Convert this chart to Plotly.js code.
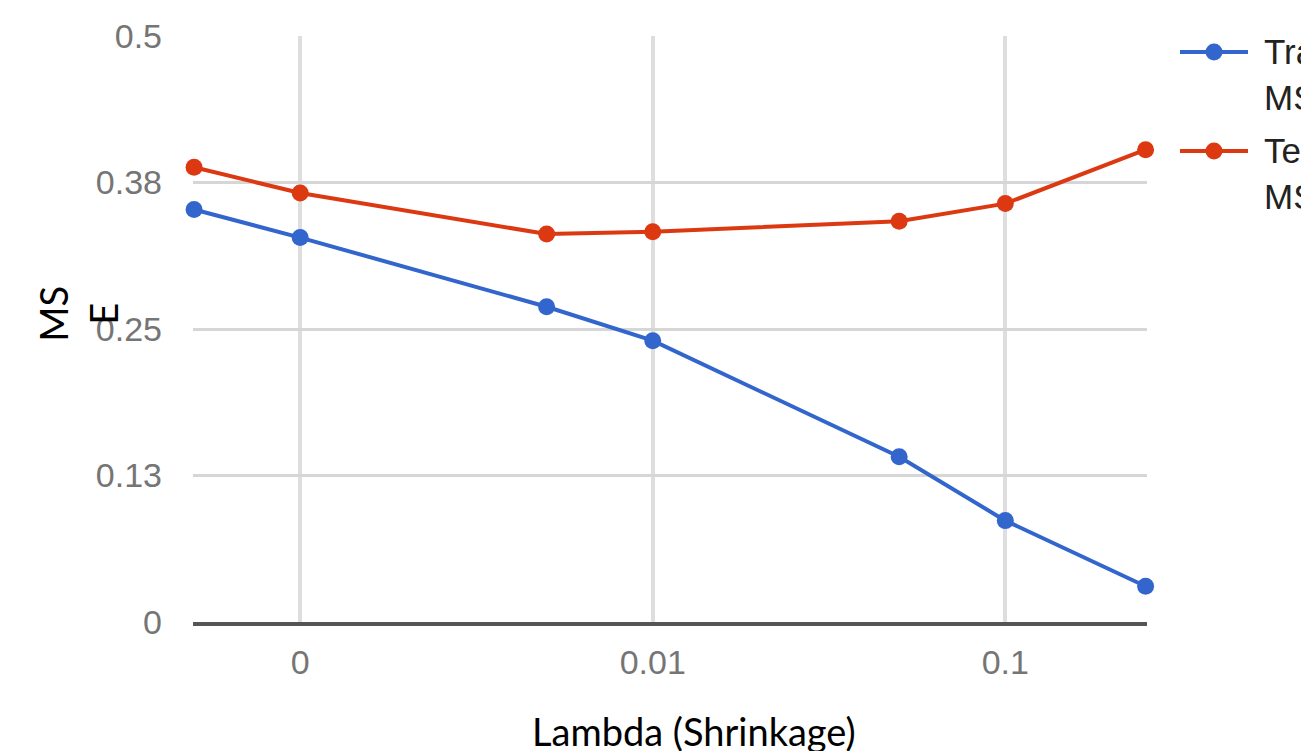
<!DOCTYPE html>
<html>
<head>
<meta charset="utf-8">
<script src="https://cdn.plot.ly/plotly-3.0.1.min.js"></script>
<style>
  html, body { margin: 0; padding: 0; background: #fff; }
  #chart { width: 1301px; height: 751px; }
</style>
</head>
<body>
<div id="chart"></div>
<script>
// Shrinkage values (log x axis)
const lambdas = [0.0005, 0.001, 0.005, 0.01, 0.05, 0.1, 0.25];
// Mean squared error per shrinkage value
const trainMSE = [0.352, 0.328, 0.269, 0.240, 0.141, 0.0865, 0.0305];
const testMSE  = [0.388, 0.366, 0.331, 0.333, 0.342, 0.357, 0.403];

const seriesNames = ["Train<br>MSE", "Test<br>MSE"];
const seriesColors = ["#3366cc", "#dc3912"];

// Axis ticks
const xTickVals = [0.001, 0.01, 0.1];
const xTickText = ["0", "0.01", "0.1"];
const yTickVals = [0, 0.125, 0.25, 0.375, 0.5];
const yTickText = ["0", "0.13", "0.25", "0.38", "0.5"];

const W = 1301, H = 751;
const M = { l: 193, r: 154, t: 36, b: 128.5 };
const plotW = W - M.l - M.r, plotH = H - M.t - M.b;
// pixel -> paper helpers for the hand-placed legend and titles
const px = x => (x - M.l) / plotW;
const py = y => (H - M.b - y) / plotH;

const tickFont = { family: "Liberation Sans, Arial, sans-serif", size: 34, color: "#757575" };
const titleFont = { family: "Lato, sans-serif", size: 38, color: "#000" };

const traces = [trainMSE, testMSE].map((vals, i) => ({
  type: "scatter",
  mode: "lines+markers",
  x: lambdas,
  y: vals,
  name: seriesNames[i],
  line: { color: seriesColors[i], width: 4 },
  marker: { color: seriesColors[i], size: 17 },
  cliponaxis: false,
  showlegend: false
}));

// Legend: line + dot + two-line label, one entry per series
const shapes = [];
const annotations = [];
const legendRows = [52, 151];
seriesNames.forEach((name, i) => {
  const yc = legendRows[i];
  shapes.push({
    type: "line", xref: "paper", yref: "paper",
    x0: px(1180), x1: px(1248), y0: py(yc), y1: py(yc),
    line: { color: seriesColors[i], width: 4 }
  });
  shapes.push({
    type: "circle", xref: "paper", yref: "paper",
    x0: px(1214 - 8.5), x1: px(1214 + 8.5), y0: py(yc + 8.5), y1: py(yc - 8.5),
    fillcolor: seriesColors[i], line: { width: 0 }
  });
  annotations.push({
    xref: "paper", yref: "paper", x: px(1262), y: py(yc + 22.5),
    xanchor: "left", yanchor: "middle", align: "left", showarrow: false,
    text: name,
    font: { family: "Liberation Sans, Arial, sans-serif", size: 35, color: "#222" }
  });
});

// Axis titles
annotations.push({
  xref: "paper", yref: "paper", x: px(694), y: py(732),
  xanchor: "center", yanchor: "middle", showarrow: false,
  text: "Lambda (Shrinkage)", font: titleFont
});
annotations.push({
  xref: "paper", yref: "paper", x: px(78), y: py(314),
  xanchor: "center", yanchor: "middle", showarrow: false, textangle: -90,
  align: "center", text: "MS<br>E", font: titleFont
});

const layout = {
  width: W, height: H,
  margin: M,
  paper_bgcolor: "#fff",
  plot_bgcolor: "#fff",
  showlegend: false,
  xaxis: {
    type: "log",
    range: [Math.log10(0.0005) - 0.003, Math.log10(0.25) + 0.004],
    tickvals: xTickVals, ticktext: xTickText,
    tickfont: tickFont,
    ticks: "", ticklabelstandoff: 7,
    showgrid: true, gridcolor: "#dedede", gridwidth: 4,
    zeroline: false,
    showline: true, linecolor: "#555", linewidth: 4
  },
  yaxis: {
    range: [0, 0.5],
    tickvals: yTickVals, ticktext: yTickText,
    tickfont: tickFont,
    ticks: "", ticklabelstandoff: 30,
    showgrid: true, gridcolor: "#d6d6d6", gridwidth: 3,
    zeroline: false, showline: false
  },
  shapes: shapes,
  annotations: annotations
};

Plotly.newPlot("chart", traces, layout, { displayModeBar: false, staticPlot: true });
</script>
</body>
</html>
